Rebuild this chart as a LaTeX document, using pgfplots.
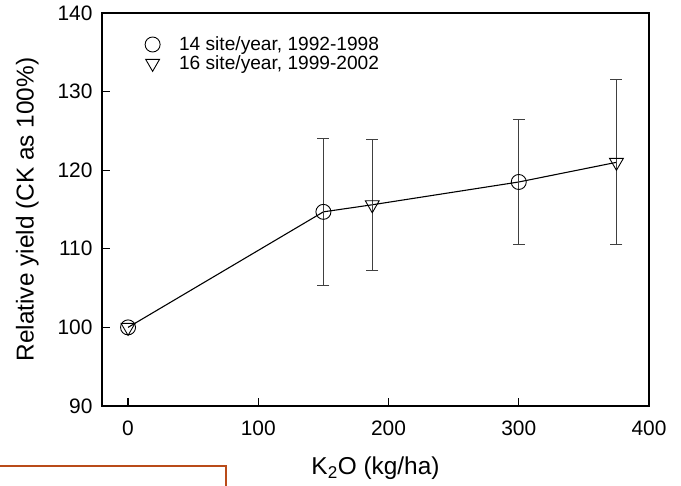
\documentclass[border=0pt]{standalone}
\usepackage{pgfplots}
\pgfplotsset{compat=1.18}
\usepackage{fontspec}
\setmainfont{Liberation Sans}
\definecolor{boxorange}{RGB}{185,75,25}
\begin{document}
\begin{tikzpicture}[x=1bp,y=1bp]
\useasboundingbox (0,0) rectangle (681,486);
\begin{axis}[
  at={(102bp,80bp)}, anchor=south west,
  scale only axis, width=547bp, height=393bp,
  xmin=-20, xmax=400, ymin=90, ymax=140,
  xtick={0,100,200,300,400}, ytick={90,100,...,140},
  tick pos=left, tick align=inside,
  major tick length=8bp,
  axis line style={line width=1.2pt},
  every tick/.style={line width=1.2pt, black},
  /pgf/number format/assume math mode=true,
  ticklabel style={font=\fontsize{21}{24}\selectfont},
  xticklabel style={yshift=-11bp},
  yticklabel style={xshift=-6bp},
  xlabel={K\textsubscript{2}O (kg/ha)},
  ylabel={Relative yield (CK as 100\%)},
  label style={font=\fontsize{24.5}{28}\selectfont},
  xlabel style={yshift=-15bp},
  ylabel style={yshift=12bp},
  legend style={draw=none, fill=none, at={(0.073,0.95)}, anchor=north west,
    font=\fontsize{19.2}{22}\selectfont, row sep=-0.5bp, cells={anchor=west},
    /tikz/every odd column/.append style={column sep=17bp}},
  legend cell align=left,
  clip=false,
]
% connecting line
\addplot[black, line width=1.1pt, forget plot] coordinates {
  (0,100) (150,114.7) (187.5,115.6) (300,118.5) (375,121.0)};
% error bars
\addplot[draw=none, forget plot,
  error bars/.cd, y dir=both, y explicit,
  error bar style={line width=0.9pt, black!75},
  error mark options={rotate=90, mark size=6bp, line width=0.9pt, black!75}]
  coordinates {
  (150,114.7) +- (0,9.4)
  (300,118.5) +- (0,7.9)
};
\addplot[draw=none, forget plot,
  error bars/.cd, y dir=both, y explicit,
  error bar style={line width=0.9pt, black!75},
  error mark options={rotate=90, mark size=6bp, line width=0.9pt, black!75}]
  coordinates {
  (187.5,115.55) +- (0,8.35)
  (375,121.05) +- (0,10.55)
};
\addplot[only marks, mark=o, mark size=7.5bp, mark options={black, line width=0.9pt, fill=none}]
  coordinates {(0,100) (150,114.7) (300,118.5)};
\addlegendentry{14 site/year, 1992-1998}
\addplot[only marks, mark=triangle, mark size=8bp, mark options={black, line width=0.9pt, fill=none, rotate=180}]
  coordinates {(0,100) (187.5,115.6) (375,121.0)};
\addlegendentry{16 site/year, 1999-2002}
\end{axis}
\draw[boxorange, line width=1.6bp] (-5,-10) -- (-5,20) -- (226,20) -- (226,-10);
\end{tikzpicture}
\end{document}
